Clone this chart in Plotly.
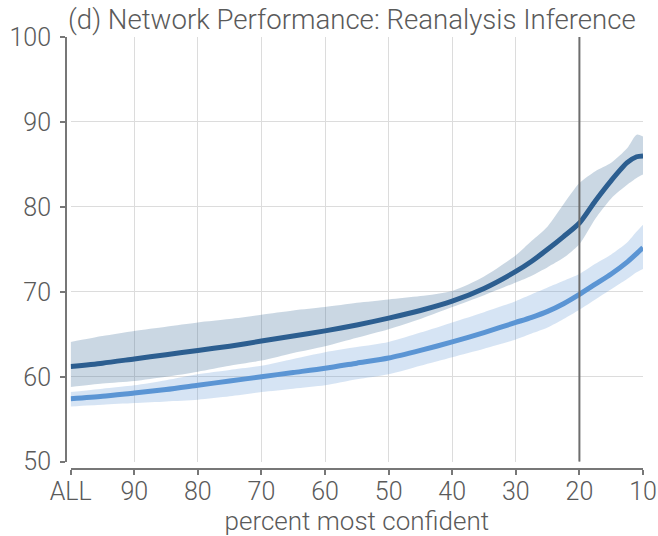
import plotly.graph_objects as go

# percent most confident (100 = ALL)
pct = [100, 95, 90, 85, 80, 75, 70, 65, 60, 55, 50, 45, 40, 35, 30,
       27.5, 25, 22.5, 20, 17.5, 15, 12.5, 11, 10]

# first network: mean and spread
dark_mean = [61.2, 61.6, 62.1, 62.6, 63.1, 63.6, 64.2, 64.8, 65.4, 66.1, 66.9, 67.8, 68.9, 70.4, 72.4,
             73.6, 75.0, 76.5, 78.1, 80.7, 83.1, 85.2, 85.9, 86.0]
dark_hi = [64.1, 64.8, 65.4, 65.9, 66.4, 66.8, 67.3, 67.8, 68.2, 68.7, 69.1, 69.5, 70.1, 71.8, 74.3,
           76.0, 77.7, 80.3, 82.8, 84.2, 85.2, 86.9, 88.5, 88.3]
dark_lo = [58.8, 59.2, 59.5, 60.0, 60.6, 61.3, 61.9, 62.8, 63.6, 64.6, 65.6, 66.8, 68.2, 69.6, 71.1,
           71.9, 72.9, 74.0, 75.6, 78.6, 81.0, 82.6, 83.4, 83.8]

# second network: mean and spread
light_mean = [57.4, 57.7, 58.1, 58.5, 59.0, 59.5, 60.0, 60.5, 61.0, 61.6, 62.2, 63.1, 64.1, 65.2, 66.4,
              67.0, 67.7, 68.6, 69.7, 70.9, 72.1, 73.5, 74.5, 75.2]
light_hi = [58.2, 58.6, 59.0, 59.6, 60.3, 60.8, 61.3, 62.1, 62.9, 63.5, 64.1, 65.2, 66.4, 67.6, 68.9,
            69.7, 70.5, 71.3, 72.1, 73.3, 74.4, 75.8, 77.1, 77.9]
light_lo = [56.5, 56.7, 56.9, 57.1, 57.3, 57.7, 58.2, 58.6, 59.0, 59.7, 60.3, 61.3, 62.3, 63.3, 64.4,
            65.1, 65.8, 66.8, 67.9, 69.1, 70.3, 71.5, 72.3, 72.7]

tick_vals = [100, 90, 80, 70, 60, 50, 40, 30, 20, 10]
tick_text = ["ALL", "90", "80", "70", "60", "50", "40", "30", "20", "10"]
y_ticks = [50, 60, 70, 80, 90, 100]
cutoff = 20

DARK = "#2c5e90"
LIGHT = "#5b95d4"
DARK_BAND = "rgba(44,94,144,0.25)"
LIGHT_BAND = "rgba(91,149,212,0.25)"
TEXT = "#5a5a5a"
SPINE = "#777777"
FONT = "Roboto"
SMOOTH = 0.7

fig = go.Figure()


def add_band(x, lo, hi, fill):
    fig.add_trace(go.Scatter(x=x, y=hi, mode="lines",
                             line=dict(width=0, shape="spline", smoothing=SMOOTH),
                             hoverinfo="skip", showlegend=False))
    fig.add_trace(go.Scatter(x=x, y=lo, mode="lines",
                             line=dict(width=0, shape="spline", smoothing=SMOOTH),
                             fill="tonexty", fillcolor=fill, hoverinfo="skip", showlegend=False))


add_band(pct, dark_lo, dark_hi, DARK_BAND)
add_band(pct, light_lo, light_hi, LIGHT_BAND)

fig.add_trace(go.Scatter(x=pct, y=dark_mean, mode="lines",
                         line=dict(color=DARK, width=5, shape="spline", smoothing=SMOOTH),
                         showlegend=False))
fig.add_trace(go.Scatter(x=pct, y=light_mean, mode="lines",
                         line=dict(color=LIGHT, width=5, shape="spline", smoothing=SMOOTH),
                         showlegend=False))

fig.add_shape(type="line", xref="x", yref="y", x0=cutoff, x1=cutoff, y0=50, y1=100,
              line=dict(color="#6e6e6e", width=2))

fig.update_layout(
    width=658, height=536,
    margin=dict(l=66, r=15, t=37, b=67, autoexpand=False),
    paper_bgcolor="white", plot_bgcolor="white",
    font=dict(family=FONT, color=TEXT, size=24),
    title=dict(text="(d) Network Performance: Reanalysis Inference",
               x=68 / 658, xanchor="left", xref="container",
               y=1 - 19 / 536, yanchor="middle", yref="container",
               font=dict(family=FONT, size=27.6, color=TEXT, weight=300)),
    xaxis=dict(
        range=[100, 10], domain=[0.0081, 1], anchor="free", position=0,
        automargin=False,
        tickmode="array", tickvals=tick_vals, ticktext=tick_text,
        showgrid=True, gridcolor="#dcdcdc", gridwidth=1, zeroline=False,
        showline=True, linecolor=SPINE, linewidth=2,
        ticks="outside", ticklen=5, tickwidth=2, tickcolor=SPINE,
        ticklabelstandoff=-5,
        tickfont=dict(family=FONT, size=25, color=TEXT, weight=300),
        title=dict(text="percent most confident", standoff=6,
                   font=dict(family=FONT, size=26, color=TEXT, weight=300)),
    ),
    yaxis=dict(
        range=[50, 100], domain=[0.0169, 1], anchor="free", position=0,
        automargin=False,
        tickmode="array", tickvals=y_ticks,
        showgrid=True, gridcolor="#dcdcdc", gridwidth=1, zeroline=False,
        showline=True, linecolor=SPINE, linewidth=2,
        ticks="outside", ticklen=5, tickwidth=2, tickcolor=SPINE,
        ticklabelstandoff=4,
        tickfont=dict(family=FONT, size=25, color=TEXT, weight=300),
    ),
)

fig.write_html("out.html")
